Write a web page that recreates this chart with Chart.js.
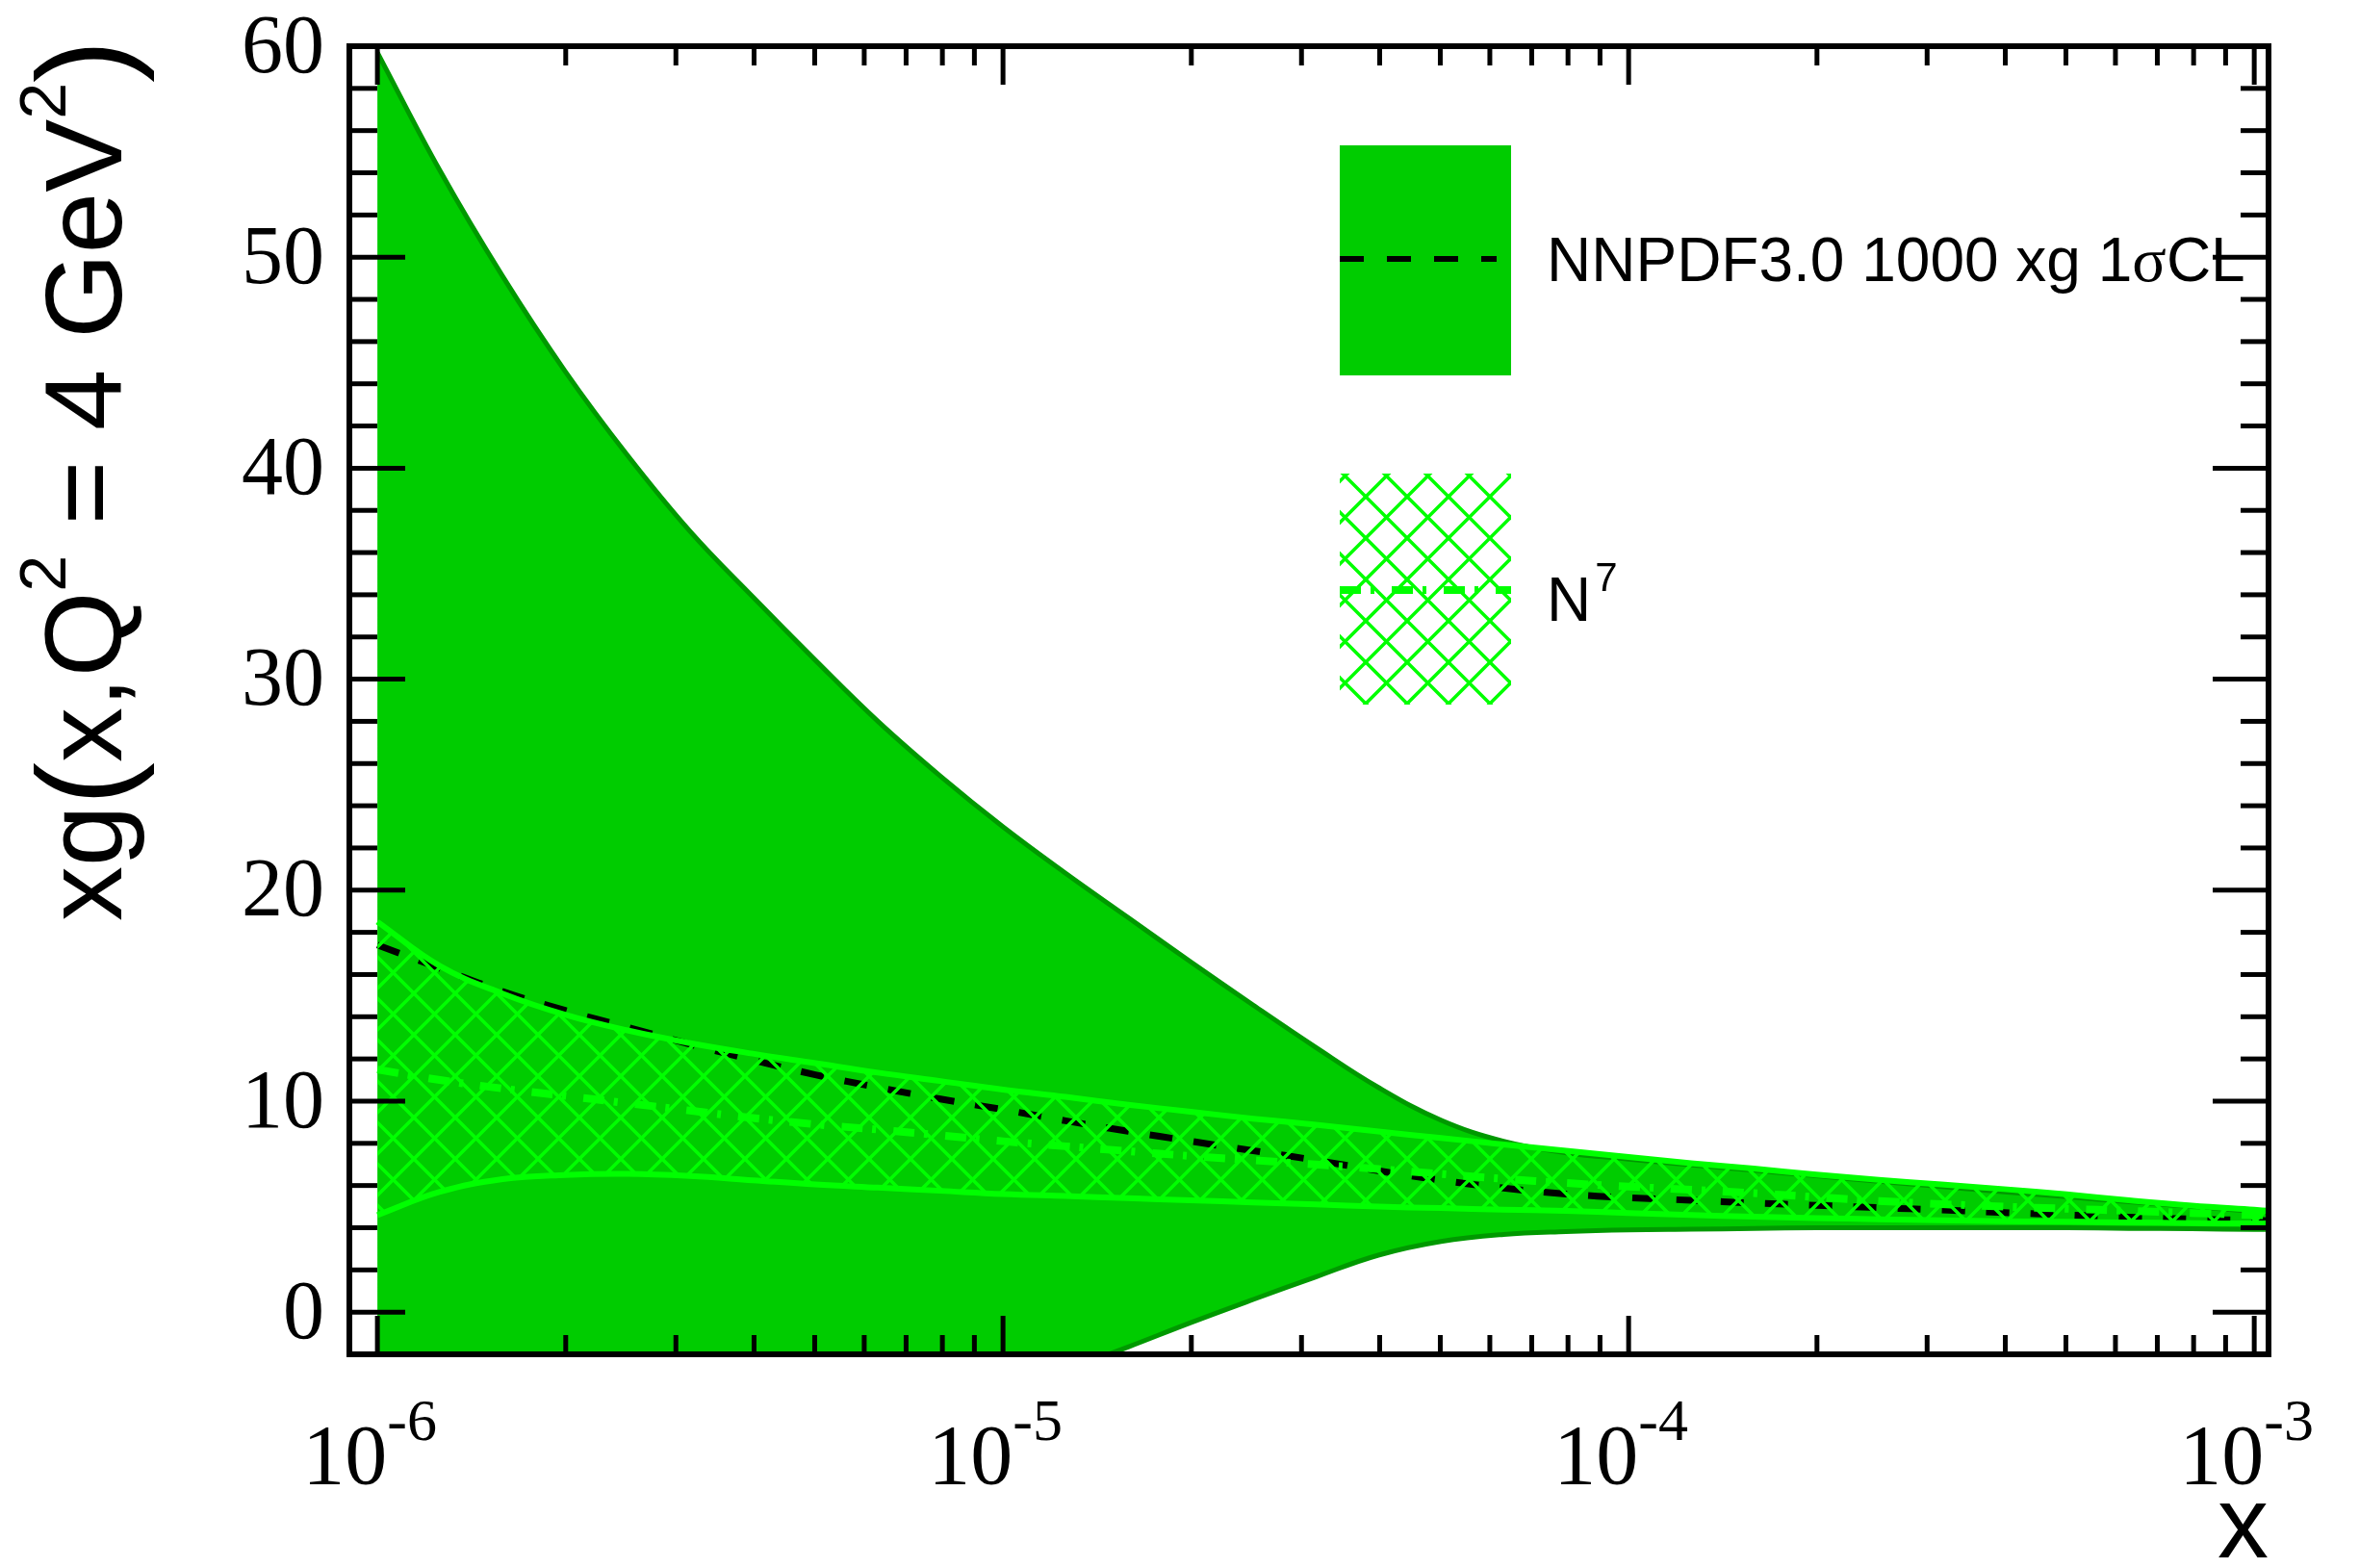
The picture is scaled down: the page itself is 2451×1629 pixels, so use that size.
<!DOCTYPE html>
<html>
<head>
<meta charset="utf-8">
<script src="https://cdn.jsdelivr.net/npm/chart.js@4.4.1/dist/chart.umd.min.js"></script>
<style>
  html, body { margin: 0; padding: 0; background: #fff; }
  canvas { display: block; }
</style>
</head>
<body>
<canvas id="xg" width="2451" height="1629"></canvas>
<script>
// x grid, ten points per decade from 1e-6 to 1e-3 (last point at the frame edge)
const xs = [
    1.000e-6, 1.259e-6, 1.585e-6, 1.995e-6, 2.512e-6, 3.162e-6, 3.981e-6, 5.012e-6, 6.310e-6, 7.943e-6,
    1.000e-5, 1.259e-5, 1.585e-5, 1.995e-5, 2.512e-5, 3.162e-5, 3.981e-5, 5.012e-5, 6.310e-5, 7.943e-5,
    1.000e-4, 1.259e-4, 1.585e-4, 1.995e-4, 2.512e-4, 3.162e-4, 3.981e-4, 5.012e-4, 6.310e-4, 7.943e-4,
    1.000e-3, 1.060e-3
];

// NNPDF3.0 1000 replicas: 1 sigma band and central value
const nnpdfHi = [59.7, 54.1, 49.1, 44.6, 40.6, 37.0, 33.9, 30.9, 28.0, 25.4, 23.0, 20.8, 18.7, 16.6, 14.55, 12.55, 10.65, 9.1, 8.1, 7.55, 7.25, 6.98, 6.72, 6.46, 6.2, 5.95, 5.7, 5.47, 5.23, 5.0, 4.78, 4.74];
const nnpdfLo = [-24.9, -21.7, -18.6, -16.1, -13.7, -11.9, -10.2, -8.5, -6.8, -5.3, -3.95, -2.75, -1.65, -0.5, 0.6, 1.67, 2.7, 3.35, 3.68, 3.82, 3.9, 3.93, 3.96, 4.0, 4.0, 4.0, 4.0, 4.0, 3.97, 3.95, 3.92, 3.92];
const nnpdfMid = [17.4, 16.3, 15.2, 14.3, 13.5, 12.7, 11.95, 11.25, 10.65, 10.1, 9.6, 9.07, 8.57, 8.1, 7.65, 7.2, 6.7, 6.25, 5.88, 5.6, 5.42, 5.3, 5.17, 5.06, 4.95, 4.84, 4.72, 4.61, 4.5, 4.41, 4.35, 4.33];

// N7 band and central value
const n7Hi = [18.5, 16.4, 15.1, 14.1, 13.35, 12.75, 12.25, 11.8, 11.35, 10.95, 10.55, 10.2, 9.83, 9.5, 9.17, 8.88, 8.56, 8.25, 7.95, 7.65, 7.35, 7.06, 6.8, 6.52, 6.27, 6.05, 5.83, 5.58, 5.3, 5.05, 4.85, 4.8];
const n7Lo = [4.6, 5.7, 6.3, 6.5, 6.55, 6.45, 6.25, 6.05, 5.9, 5.75, 5.6, 5.5, 5.4, 5.3, 5.2, 5.1, 5.0, 4.93, 4.86, 4.8, 4.7, 4.6, 4.52, 4.46, 4.4, 4.35, 4.31, 4.28, 4.25, 4.22, 4.2, 4.2];
const n7Mid = [11.5, 11.0, 10.6, 10.25, 9.9, 9.55, 9.2, 8.9, 8.65, 8.38, 8.1, 7.86, 7.63, 7.4, 7.2, 7.0, 6.78, 6.55, 6.32, 6.12, 5.95, 5.8, 5.64, 5.45, 5.27, 5.12, 5.0, 4.9, 4.8, 4.7, 4.6, 4.58];

// axis labels
const yLabels = [0, 10, 20, 30, 40, 50, 60];
const xDecades = [-6, -5, -4, -3];
const legendLabels = ['NNPDF3.0 1000 xg 1', 'N'];

const green = '#00cc00';
const darkGreen = '#009900';
const lightGreen = '#00ff00';
const serif = '"Liberation Serif", "Times New Roman", serif';
const sans = '"Liberation Sans", Arial, Helvetica, sans-serif';

const pts = (arr) => xs.map((x, i) => ({ x: x, y: arr[i] }));

// cross hatch pattern for the N7 band
function hatch() {
    const s = 43;
    const c = document.createElement('canvas');
    c.width = s;
    c.height = s;
    const g = c.getContext('2d');
    g.strokeStyle = lightGreen;
    g.lineWidth = 3.5;
    for (let k = -1; k <= 1; k++) {
        g.beginPath();
        g.moveTo(k * s, 0);
        g.lineTo(k * s + s, s);
        g.moveTo(k * s + s, 0);
        g.lineTo(k * s, s);
        g.stroke();
    }
    return g.createPattern(c, 'repeat');
}
const hatchFill = hatch();

function seg(ctx, x1, y1, x2, y2) {
    ctx.beginPath();
    ctx.moveTo(x1, y1);
    ctx.lineTo(x2, y2);
    ctx.stroke();
}

// frame, ticks, labels, titles and legend in ROOT style
const decorations = {
    id: 'decorations',
    afterDraw(chart) {
        const ctx = chart.ctx;
        const a = chart.chartArea;
        const sx = chart.scales.x;
        const sy = chart.scales.y;
        ctx.save();
        ctx.strokeStyle = '#000';
        ctx.fillStyle = '#000';
        ctx.lineCap = 'butt';

        // y ticks, minor every 2
        ctx.lineWidth = 5;
        for (let v = 0; v <= 60; v += 2) {
            const y = sy.getPixelForValue(v);
            const len = v % 10 === 0 ? 58 : 29;
            seg(ctx, a.left, y, a.left + len, y);
            seg(ctx, a.right, y, a.right - len, y);
        }
        // x ticks, 1..9 per decade
        xDecades.forEach(d => {
            for (let m = 1; m <= 9; m++) {
                const v = m * Math.pow(10, d);
                if (v < sx.min || v > sx.max) continue;
                const x = sx.getPixelForValue(v);
                const len = m === 1 ? 40 : 20;
                seg(ctx, x, a.bottom, x, a.bottom - len);
                seg(ctx, x, a.top, x, a.top + len);
            }
        });

        // frame
        ctx.lineWidth = 6;
        ctx.strokeRect(a.left, a.top, a.right - a.left, a.bottom - a.top);

        // y tick labels
        ctx.font = '86px ' + serif;
        ctx.textAlign = 'right';
        ctx.textBaseline = 'middle';
        yLabels.forEach(v => {
            ctx.fillText(String(v), a.left - 26, sy.getPixelForValue(v) + 4);
        });

        // x tick labels 10^n
        ctx.textBaseline = 'alphabetic';
        ctx.textAlign = 'left';
        xDecades.forEach(d => {
            const x = sx.getPixelForValue(Math.pow(10, d));
            ctx.font = '88px ' + serif;
            const w1 = ctx.measureText('10').width;
            ctx.font = '62px ' + serif;
            const sup = '-' + String(-d);
            const w2 = ctx.measureText(sup).width;
            const x0 = x - (w1 + w2) / 2 - 8;
            ctx.font = '88px ' + serif;
            ctx.fillText('10', x0, 1541);
            ctx.font = '62px ' + serif;
            ctx.fillText(sup, x0 + w1, 1496);
        });

        // x title
        ctx.font = '106px ' + sans;
        ctx.textAlign = 'right';
        ctx.fillText('x', a.right, 1618);

        // y title, rotated
        ctx.save();
        ctx.translate(126, 957);
        ctx.rotate(-Math.PI / 2);
        ctx.textAlign = 'left';
        let px = 0;
        const big = '114px ' + sans;
        const small = '68px ' + sans;
        const paren = '134px ' + sans;
        const parts = [
            ['xg', big, 0], ['(', paren, 6], ['x,Q', big, 0], ['2', small, -58],
            [' = 4 GeV', big, 0], ['2', small, -58], [')', paren, 6]
        ];
        parts.forEach(p => {
            ctx.font = p[1];
            ctx.fillText(p[0], px, p[2]);
            px += ctx.measureText(p[0]).width;
        });
        ctx.restore();

        // legend: NNPDF band
        ctx.fillStyle = green;
        ctx.fillRect(1392, 151, 178, 239);
        ctx.strokeStyle = '#000';
        ctx.lineWidth = 6;
        ctx.setLineDash([25, 24]);
        seg(ctx, 1392, 269, 1555, 269);

        // legend: N7 band
        ctx.fillStyle = hatchFill;
        ctx.fillRect(1392, 492, 178, 240);
        ctx.strokeStyle = lightGreen;
        ctx.lineWidth = 8;
        ctx.setLineDash([22, 10, 4, 18]);
        seg(ctx, 1392, 613, 1570, 613);
        ctx.setLineDash([]);

        ctx.fillStyle = '#000';
        ctx.textAlign = 'left';
        ctx.font = '64px ' + sans;
        ctx.fillText(legendLabels[0], 1607, 292);
        let tx = 1607 + ctx.measureText(legendLabels[0]).width;
        ctx.font = '66px ' + serif;
        ctx.fillText('\u03c3', tx, 292);
        tx += ctx.measureText('\u03c3').width;
        ctx.font = '64px ' + sans;
        ctx.fillText('CL', tx, 292);

        ctx.fillText(legendLabels[1], 1607, 645);
        const nw = ctx.measureText(legendLabels[1]).width;
        ctx.font = '42px ' + sans;
        ctx.fillText('7', 1607 + nw + 4, 614);

        ctx.restore();
    }
};

const line = {
    pointRadius: 0,
    pointHoverRadius: 0,
    tension: 0.4,
    clip: 0
};

new Chart(document.getElementById('xg'), {
    type: 'line',
    data: {
        datasets: [
            Object.assign({
                label: 'NNPDF3.0 upper',
                data: pts(nnpdfHi),
                borderColor: darkGreen,
                borderWidth: 5,
                backgroundColor: green,
                fill: 1,
                order: 10
            }, line),
            Object.assign({
                label: 'NNPDF3.0 lower',
                data: pts(nnpdfLo),
                borderColor: darkGreen,
                borderWidth: 5,
                fill: false,
                order: 9
            }, line),
            Object.assign({
                label: 'NNPDF3.0 1000 xg 1\u03c3CL',
                data: pts(nnpdfMid),
                borderColor: '#000',
                borderWidth: 7,
                borderDash: [24, 22],
                fill: false,
                order: 8
            }, line),
            Object.assign({
                label: 'N7 upper',
                data: pts(n7Hi),
                borderColor: lightGreen,
                borderWidth: 6,
                backgroundColor: hatchFill,
                fill: 4,
                order: 7
            }, line),
            Object.assign({
                label: 'N7 lower',
                data: pts(n7Lo),
                borderColor: lightGreen,
                borderWidth: 6,
                fill: false,
                order: 6
            }, line),
            Object.assign({
                label: 'N7',
                data: pts(n7Mid),
                borderColor: lightGreen,
                borderWidth: 8,
                borderDash: [22, 10, 4, 18],
                fill: false,
                order: 5
            }, line)
        ]
    },
    options: {
        responsive: false,
        animation: false,
        devicePixelRatio: 1,
        layout: {
            padding: { left: 363, right: 94, top: 48, bottom: 222 }
        },
        plugins: {
            legend: { display: false },
            tooltip: { enabled: false }
        },
        scales: {
            x: {
                type: 'logarithmic',
                min: 9.02e-7,
                max: 1.054e-3,
                display: false
            },
            y: {
                type: 'linear',
                min: -2,
                max: 60,
                display: false
            }
        }
    },
    plugins: [decorations]
});
</script>
</body>
</html>
